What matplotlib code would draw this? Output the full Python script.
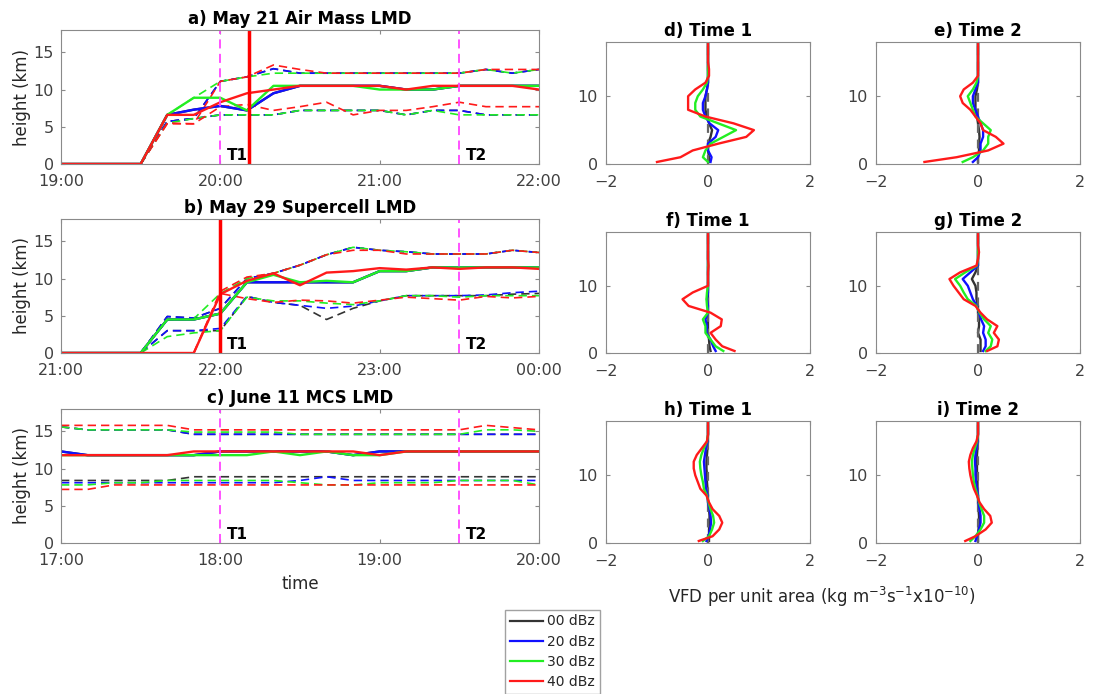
import numpy as np
import matplotlib.pyplot as plt

plt.rcParams['font.family'] = 'DejaVu Sans'
plt.rcParams['mathtext.default'] = 'regular'

# dBz thresholds and line colours
levels = ['00 dBz', '20 dBz', '30 dBz', '40 dBz']
colors = ['#333333', '#1010ff', '#22ee22', '#ff1a1a']

# minutes after the start of each time window (10 min steps)
minutes = np.arange(0, 181, 10)

# ---- a) May 21 air mass (19:00 - 22:00)
a_start = 19
a_solid = [
    [0, 0, 0, 0, 6.6, 7.3, 7.8, 7.2, 9.5, 10.5, 10.5, 10.5, 10.5, 10.0, 10.0, 10.5, 10.5, 10.5, 10.5],
    [0, 0, 0, 0, 6.6, 7.3, 7.8, 7.2, 9.5, 10.5, 10.5, 10.5, 10.5, 10.0, 10.0, 10.5, 10.5, 10.5, 10.5],
    [0, 0, 0, 0, 6.6, 8.9, 8.9, 7.2, 10.5, 10.5, 10.5, 10.5, 10.0, 10.0, 10.0, 10.5, 10.5, 10.5, 10.5],
    [0, 0, 0, 0, 6.6, 6.6, 8.3, 9.5, 10.0, 10.5, 10.5, 10.5, 10.5, 10.0, 10.5, 10.5, 10.5, 10.5, 10.0],
]
a_top = [
    [0, 0, 0, 0, 5.7, 6.1, 11.1, 11.7, 12.8, 12.2, 12.2, 12.2, 12.2, 12.2, 12.2, 12.2, 12.7, 12.2, 12.7],
    [0, 0, 0, 0, 5.7, 6.1, 11.1, 11.7, 12.8, 12.2, 12.2, 12.2, 12.2, 12.2, 12.2, 12.2, 12.7, 12.2, 12.7],
    [0, 0, 0, 0, 6.6, 8.9, 11.1, 11.7, 12.2, 12.2, 12.2, 12.2, 12.2, 12.2, 12.2, 12.2, 12.7, 12.2, 12.7],
    [0, 0, 0, 0, 5.5, 5.4, 11.1, 11.7, 13.3, 12.7, 12.2, 12.2, 12.2, 12.2, 12.2, 12.2, 12.7, 12.7, 12.7],
]
a_low = [
    [0, 0, 0, 0, 5.7, 6.1, 6.6, 6.6, 6.6, 7.2, 7.2, 7.2, 7.2, 6.6, 7.2, 7.2, 6.6, 6.6, 6.6],
    [0, 0, 0, 0, 5.7, 6.1, 6.6, 6.6, 6.6, 7.2, 7.2, 7.2, 7.2, 6.6, 7.2, 7.2, 6.6, 6.6, 6.6],
    [0, 0, 0, 0, 5.5, 6.1, 6.6, 6.6, 6.6, 7.2, 7.2, 7.2, 7.2, 6.6, 7.2, 6.6, 6.6, 6.6, 6.6],
    [0, 0, 0, 0, 5.4, 5.4, 7.7, 8.0, 7.2, 7.7, 8.3, 6.6, 7.2, 7.2, 7.7, 8.3, 7.7, 7.7, 7.7],
]

# ---- b) May 29 supercell (21:00 - 00:00)
b_start = 21
b_solid = [
    [0, 0, 0, 0, 4.5, 4.5, 5.3, 9.5, 9.5, 9.5, 9.5, 9.5, 11.0, 11.0, 11.5, 11.5, 11.5, 11.5, 11.5],
    [0, 0, 0, 0, 4.5, 4.5, 5.3, 9.5, 9.5, 9.5, 9.5, 9.5, 11.0, 11.0, 11.5, 11.5, 11.5, 11.5, 11.5],
    [0, 0, 0, 0, 4.5, 4.5, 5.3, 9.5, 10.5, 9.5, 9.7, 9.5, 11.0, 11.0, 11.5, 11.5, 11.5, 11.5, 11.5],
    [0, 0, 0, 0, 0, 0, 7.9, 9.7, 10.7, 9.1, 10.8, 11.0, 11.4, 11.2, 11.5, 11.3, 11.5, 11.5, 11.3],
]
b_top = [
    [0, 0, 0, 0, 4.9, 4.7, 6.0, 10.0, 10.7, 11.8, 13.2, 14.2, 13.8, 13.6, 13.3, 13.3, 13.3, 13.8, 13.5],
    [0, 0, 0, 0, 4.9, 4.7, 6.0, 10.0, 10.7, 11.8, 13.2, 14.2, 13.8, 13.6, 13.3, 13.3, 13.3, 13.8, 13.5],
    [0, 0, 0, 0, 4.4, 4.6, 8.0, 10.0, 10.7, 11.8, 13.2, 14.2, 13.8, 13.6, 13.3, 13.3, 13.3, 13.8, 13.5],
    [0, 0, 0, 0, 0, 0, 8.3, 10.2, 10.7, 11.8, 13.2, 13.8, 13.8, 13.3, 13.3, 13.3, 13.3, 13.8, 13.5],
]
b_low = [
    [0, 0, 0, 0, 3.0, 3.0, 3.0, 7.6, 6.8, 6.4, 4.5, 6.0, 7.0, 7.7, 7.7, 7.7, 7.7, 7.9, 8.0],
    [0, 0, 0, 0, 3.0, 3.0, 3.3, 7.6, 6.8, 6.4, 6.0, 6.3, 7.0, 7.7, 7.7, 7.7, 7.8, 8.1, 8.3],
    [0, 0, 0, 0, 2.2, 2.7, 3.0, 7.5, 7.0, 7.0, 6.7, 6.5, 7.0, 7.7, 7.7, 7.5, 7.7, 7.7, 7.7],
    [0, 0, 0, 0, 0, 0, 8.0, 7.3, 6.8, 7.1, 7.0, 6.7, 7.1, 7.5, 7.3, 7.1, 7.6, 7.4, 7.6],
]

# ---- c) June 11 MCS (17:00 - 20:00)
c_start = 17
c_solid = [
    [12.3, 11.8, 11.8, 11.8, 11.8, 11.8, 12.3, 12.3, 12.3, 12.3, 12.3, 11.8, 12.3, 12.3, 12.3, 12.3, 12.3, 12.3, 12.3],
    [12.3, 11.8, 11.8, 11.8, 11.8, 11.8, 12.3, 12.3, 12.3, 12.3, 12.3, 11.8, 12.3, 12.3, 12.3, 12.3, 12.3, 12.3, 12.3],
    [11.8, 11.8, 11.8, 11.8, 11.8, 11.8, 11.8, 11.8, 12.3, 11.8, 12.3, 11.8, 11.8, 12.3, 12.3, 12.3, 12.3, 12.3, 12.3],
    [11.8, 11.8, 11.8, 11.8, 11.8, 12.3, 12.3, 12.3, 12.3, 12.3, 12.3, 12.3, 11.8, 12.3, 12.3, 12.3, 12.3, 12.3, 12.3],
]
c_top = [
    [15.6, 15.2, 15.2, 15.2, 15.2, 14.6, 14.6, 14.6, 14.6, 14.6, 14.6, 14.6, 14.6, 14.6, 14.6, 14.6, 14.6, 14.6, 14.6],
    [15.6, 15.2, 15.2, 15.2, 15.2, 14.6, 14.6, 14.6, 14.6, 14.6, 14.6, 14.6, 14.6, 14.6, 14.6, 14.6, 14.6, 14.6, 14.6],
    [15.6, 15.2, 15.2, 15.2, 15.2, 14.9, 14.9, 14.9, 14.9, 14.6, 14.6, 14.6, 14.6, 14.6, 14.6, 14.6, 15.2, 15.2, 15.0],
    [15.8, 15.8, 15.8, 15.8, 15.8, 15.2, 15.2, 15.2, 15.2, 15.2, 15.2, 15.2, 15.2, 15.2, 15.2, 15.2, 15.8, 15.5, 15.2],
]
c_low = [
    [8.4, 8.4, 8.4, 8.4, 8.4, 8.9, 8.9, 8.9, 8.9, 8.9, 8.9, 8.9, 8.9, 8.9, 8.9, 8.9, 8.9, 8.9, 8.9],
    [8.1, 8.1, 8.1, 8.1, 8.1, 8.1, 8.1, 8.1, 8.1, 8.4, 8.9, 8.4, 8.4, 8.4, 8.4, 8.4, 8.4, 8.4, 8.4],
    [7.8, 7.8, 8.1, 8.1, 8.4, 8.4, 8.4, 8.4, 8.4, 8.1, 7.8, 7.8, 8.1, 8.1, 8.1, 8.4, 8.4, 8.4, 7.8],
    [7.2, 7.2, 7.8, 7.8, 7.8, 7.8, 7.8, 7.8, 7.8, 7.8, 7.8, 7.8, 7.8, 7.8, 7.8, 7.8, 7.8, 7.8, 7.8],
]

left_titles = ['a) May 21 Air Mass LMD', 'b) May 29 Supercell LMD', 'c) June 11 MCS LMD']
left_starts = [a_start, b_start, c_start]
left_data = [(a_solid, a_top, a_low), (b_solid, b_top, b_low), (c_solid, c_top, c_low)]
t1_times = [20.0, 22.0, 18.0]
t2_times = [21.5, 23.5, 19.5]
lmd_times = [20.18, 22.0, None]   # red vertical line

# ---- VFD profiles (height in km)
heights = [0.3, 1, 2, 3, 4, 5, 6, 7, 8, 9, 10, 11, 12, 13, 14, 15, 16, 17, 18]
vfd_d = [
    [0.02, 0.02, 0, 0, 0.05, 0.08, 0.02, -0.02, -0.05, -0.05, -0.05, -0.02, 0, 0, 0, 0, 0, 0, 0],
    [0.05, 0.07, 0.0, 0.0, 0.15, 0.2, 0.03, -0.05, -0.1, -0.1, -0.05, -0.02, 0, 0, 0, 0, 0, 0, 0],
    [0, -0.1, -0.05, 0.05, 0.3, 0.55, 0.2, -0.15, -0.25, -0.25, -0.2, -0.1, -0.02, 0, 0, 0, 0, 0, 0],
    [-1.0, -0.54, -0.3, 0.2, 0.75, 0.9, 0.5, -0.05, -0.39, -0.39, -0.39, -0.25, -0.05, 0.02, 0.02, 0, 0, 0, 0],
]
vfd_e = [
    [0, 0, 0.02, 0.02, 0.03, 0.02, 0, -0.02, -0.05, -0.05, -0.05, -0.02, 0, 0, 0, 0, 0, 0, 0],
    [-0.1, 0, 0.05, 0.05, 0.1, 0.1, 0.05, 0, -0.05, -0.1, -0.1, -0.05, 0, 0, 0, 0, 0, 0, 0],
    [-0.3, -0.1, 0.1, 0.2, 0.2, 0.25, 0.1, -0.05, -0.1, -0.15, -0.2, -0.1, -0.03, 0, 0, 0, 0, 0, 0],
    [-1.05, -0.42, 0.2, 0.5, 0.35, 0.1, 0.05, -0.05, -0.15, -0.3, -0.35, -0.28, -0.1, 0, 0, 0, 0, 0, 0],
]
vfd_f = [
    [0.05, 0.03, 0.02, 0, 0, 0, 0, 0, 0, 0, 0, 0, 0, 0, 0, 0, 0, 0, 0],
    [0.15, 0.1, 0.05, -0.03, -0.02, -0.05, 0, 0, -0.02, 0, 0, 0, 0, 0, 0, 0, 0, 0, 0],
    [0.3, 0.15, 0.05, -0.05, -0.05, -0.1, 0, -0.02, -0.03, -0.02, 0, 0, 0, 0, 0, 0, 0, 0, 0],
    [0.52, 0.28, 0.15, 0.05, 0.25, 0.27, 0.05, -0.38, -0.5, -0.3, 0, 0, 0, 0.01, 0, 0, 0, 0, 0],
]
vfd_g = [
    [0.05, 0.05, 0.05, 0, 0.02, 0.02, 0, 0, -0.03, -0.03, -0.05, -0.12, -0.05, 0, 0, 0, 0, 0, 0],
    [0.1, 0.15, 0.15, 0.1, 0.12, 0.06, 0.02, -0.02, -0.1, -0.15, -0.2, -0.3, -0.15, 0, 0, 0, 0, 0, 0],
    [0.15, 0.25, 0.28, 0.2, 0.25, 0.12, 0.03, -0.03, -0.2, -0.28, -0.35, -0.45, -0.25, -0.02, 0, 0, 0, 0, 0],
    [0.18, 0.38, 0.41, 0.31, 0.38, 0.18, 0.05, -0.05, -0.28, -0.38, -0.48, -0.56, -0.35, -0.03, 0, 0.02, 0, 0, 0],
]
vfd_h = [
    [0.02, 0.02, 0.02, 0.03, 0.03, 0.02, 0, 0, -0.01, -0.02, -0.02, -0.03, -0.03, -0.02, -0.01, 0, 0, 0, 0],
    [-0.03, 0.01, 0.04, 0.06, 0.05, 0.03, 0, -0.01, -0.04, -0.05, -0.06, -0.07, -0.08, -0.06, -0.04, -0.01, 0, 0, 0],
    [-0.1, 0.02, 0.08, 0.12, 0.1, 0.05, 0.01, -0.02, -0.08, -0.1, -0.13, -0.15, -0.16, -0.13, -0.08, -0.02, 0, 0, 0],
    [-0.18, 0.09, 0.22, 0.28, 0.22, 0.09, 0.02, -0.03, -0.15, -0.2, -0.25, -0.28, -0.28, -0.22, -0.12, -0.02, 0, 0, 0],
]
vfd_i = [
    [0, 0, 0.01, 0.02, 0.02, 0.01, 0, 0, -0.01, -0.01, -0.02, -0.02, -0.02, -0.02, -0.01, 0, 0, 0, 0],
    [-0.05, -0.02, 0.02, 0.05, 0.05, 0.03, 0.01, 0, -0.02, -0.04, -0.05, -0.05, -0.06, -0.05, -0.03, -0.01, 0, 0, 0],
    [-0.15, -0.05, 0.05, 0.12, 0.12, 0.07, 0.02, -0.01, -0.05, -0.08, -0.1, -0.11, -0.12, -0.1, -0.06, -0.02, 0, 0, 0],
    [-0.25, -0.05, 0.15, 0.27, 0.24, 0.12, 0.03, -0.02, -0.08, -0.12, -0.15, -0.17, -0.18, -0.15, -0.1, -0.03, 0, 0, 0],
]
right_titles = ['d) Time 1', 'e) Time 2', 'f) Time 1', 'g) Time 2', 'h) Time 1', 'i) Time 2']
right_data = [vfd_d, vfd_e, vfd_f, vfd_g, vfd_h, vfd_i]

W, H = 1094, 694
fig = plt.figure(figsize=(W / 100, H / 100), dpi=100)

tick_color = '#404040'
edge_color = '#8a8a8a'


def style(ax, xpad=7, ypad=5):
    for s in ax.spines.values():
        s.set_color(edge_color)
    ax.tick_params(direction='in', top=True, right=True, colors=edge_color,
                   labelcolor=tick_color, labelsize=11.5, length=3)
    ax.tick_params(axis='x', pad=xpad)
    ax.tick_params(axis='y', pad=ypad)


def frac(x0, y0, x1, y1):
    return [x0 / W, 1 - y1 / H, (x1 - x0) / W, (y1 - y0) / H]


# left column: time series
left_boxes = [frac(61, 30, 539, 164), frac(61, 219, 539, 353), frac(61, 409, 539, 543)]
for k in range(3):
    ax = fig.add_axes(left_boxes[k])
    start = left_starts[k]
    t = start + minutes / 60.0
    solid, top, low = left_data[k]
    for j in range(4):
        ax.plot(t, top[j], color=colors[j], lw=1.2, ls=(0, (5, 3)))
        ax.plot(t, low[j], color=colors[j], lw=1.2, ls=(0, (5, 3)))
    for j in range(4):
        ax.plot(t, solid[j], color=colors[j], lw=1.7)
    ax.axvline(t1_times[k], color='#ff44ff', lw=1.3, ls=(0, (5, 3)))
    ax.axvline(t2_times[k], color='#ff44ff', lw=1.3, ls=(0, (5, 3)))
    if lmd_times[k] is not None:
        ax.axvline(lmd_times[k], color='#ff0000', lw=2.5)
    ax.text(t1_times[k] + 0.04, 0.6, 'T1', fontsize=11, fontweight='bold')
    ax.text(t2_times[k] + 0.04, 0.6, 'T2', fontsize=11, fontweight='bold')
    ax.set_xlim(start, start + 3)
    ax.set_ylim(0, 18)
    ax.set_yticks([0, 5, 10, 15])
    ax.set_xticks([start, start + 1, start + 2, start + 3])
    ax.set_xticklabels(['%02d:00' % ((start + i) % 24) for i in range(4)])
    ax.set_ylabel('height (km)', fontsize=12, color='#262626', labelpad=2)
    ax.set_title(left_titles[k], fontsize=12, fontweight='bold', pad=4)
    style(ax)
    if k == 2:
        ax.set_xlabel('time', fontsize=12, color='#262626', labelpad=5)

# right columns: VFD profiles
rows_y = [(42, 164), (232, 353), (421, 543)]
cols_x = [(606, 810), (876, 1080)]
for n in range(6):
    r, c = n // 2, n % 2
    ax = fig.add_axes(frac(cols_x[c][0], rows_y[r][0], cols_x[c][1], rows_y[r][1]))
    prof = right_data[n]
    ax.plot(prof[0], heights, color=colors[0], lw=1.7)
    ax.axvline(0, color='#666666', lw=1.6, ls=(0, (4, 3)))
    for j in range(1, 4):
        ax.plot(prof[j], heights, color=colors[j], lw=1.7)
    ax.set_xlim(-2, 2)
    ax.set_ylim(0, 18)
    ax.set_xticks([-2, 0, 2])
    ax.set_yticks([0, 10])
    ax.set_title(right_titles[n], fontsize=12, fontweight='bold', pad=4)
    style(ax, xpad=8, ypad=6)

fig.text(822 / W, 1 - 597 / H,
         'VFD per unit area (kg m$^{-3}$s$^{-1}$x10$^{-10}$)',
         ha='center', va='center', fontsize=12, color='#262626')

handles = [plt.Line2D([], [], color=colors[j], lw=1.6) for j in range(4)]
leg = fig.legend(handles, levels, loc='lower left', bbox_to_anchor=(505 / W, 0.0),
                 fontsize=10, frameon=True, fancybox=False, handlelength=2.4,
                 handletextpad=0.3, borderpad=0.35, labelspacing=0.45, borderaxespad=0)
leg.get_frame().set_edgecolor(edge_color)
leg.get_frame().set_linewidth(1.0)
for txt in leg.get_texts():
    txt.set_color('#262626')

fig.savefig('out.png', dpi=100)
